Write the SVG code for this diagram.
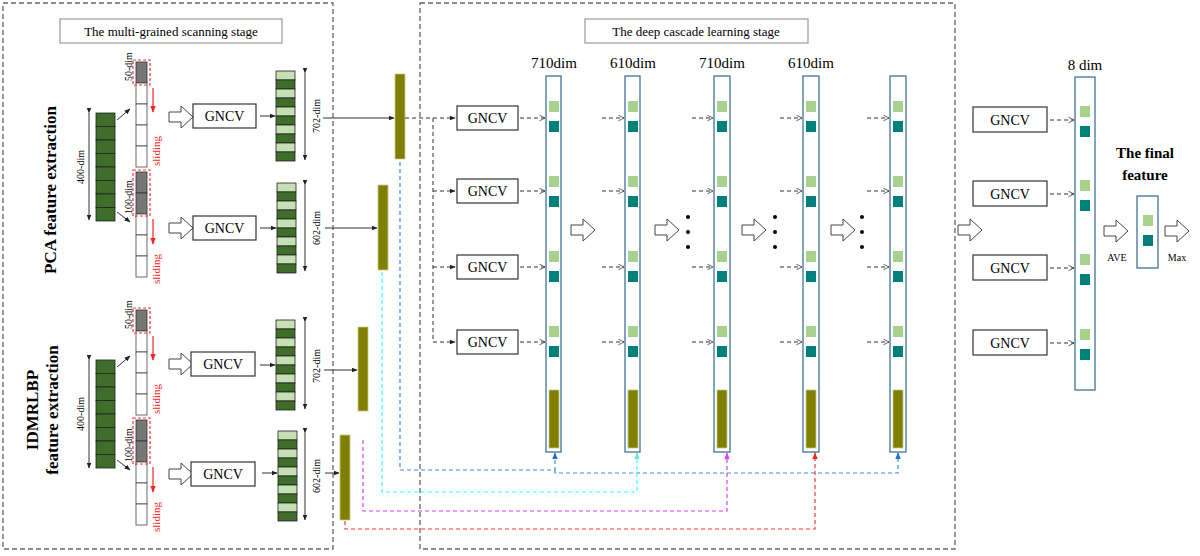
<svg xmlns="http://www.w3.org/2000/svg" xmlns:xlink="http://www.w3.org/1999/xlink" width="1200" height="556" viewBox="0 0 1200 556">
<style>
text{font-family:"Liberation Serif",serif;fill:#000}
.t{font-size:14px}
.s{font-size:10px}
.b{font-weight:bold}
.box{fill:#fff;stroke:#333;stroke-width:1.2}
.stage{fill:none;stroke:#666;stroke-width:1.3;stroke-dasharray:5,3}
.dg{fill:#3e6e2a;stroke:#222;stroke-width:0.8}
.lg{fill:#c5e0b3;stroke:#222;stroke-width:0.8}
.wc{fill:#fff;stroke:#444;stroke-width:0.8}
.gc{fill:#777;stroke:#333;stroke-width:0.8}
.red{fill:none;stroke:#f33;stroke-width:1.2;stroke-dasharray:3,2}
.bar{fill:#808000;stroke:#c9c98a;stroke-width:0.8}
.col{fill:#fff;stroke:#41719c;stroke-width:1.3}
.sq1{fill:#a9d18e}
.sq2{fill:#00807a}
.ln{stroke:#333;stroke-width:1;fill:none}
.dl{stroke:#333;stroke-width:1;fill:none;stroke-dasharray:4,3}
.ha{fill:#fff;stroke:#444;stroke-width:1}
</style>
<defs>
<marker id="ah" viewBox="0 0 10 10" refX="9" refY="5" markerWidth="6" markerHeight="6" orient="auto"><path d="M0,1 L10,5 L0,9 z" fill="#222"/></marker>
<marker id="oa" viewBox="0 0 10 10" refX="9" refY="5" markerWidth="7" markerHeight="7" orient="auto"><path d="M1,1 L9,5 L1,9" fill="none" stroke="#444" stroke-width="1.2"/></marker>
<marker id="ab" viewBox="0 0 10 10" refX="9" refY="5" markerWidth="6" markerHeight="6" orient="auto"><path d="M0,1 L10,5 L0,9 z" fill="#1f6fd0"/></marker>
<marker id="ac" viewBox="0 0 10 10" refX="9" refY="5" markerWidth="6" markerHeight="6" orient="auto"><path d="M0,1 L10,5 L0,9 z" fill="#6fe8c8"/></marker>
<marker id="am" viewBox="0 0 10 10" refX="9" refY="5" markerWidth="6" markerHeight="6" orient="auto"><path d="M0,1 L10,5 L0,9 z" fill="#e040fb"/></marker>
<marker id="ar" viewBox="0 0 10 10" refX="9" refY="5" markerWidth="6" markerHeight="6" orient="auto"><path d="M0,1 L10,5 L0,9 z" fill="#f22"/></marker>
<marker id="rd" viewBox="0 0 10 10" refX="9" refY="5" markerWidth="6" markerHeight="6" orient="auto"><path d="M0,1 L10,5 L0,9 z" fill="#f22"/></marker>
<path id="harrow" class="ha" d="M0,-5 H12 V-11 L24,0 L12,11 V5 H0 Z"/>
<g id="fcol">
<rect class="lg" x="0" y="0" width="19" height="9"/><rect class="dg" x="0" y="9" width="19" height="9"/>
<rect class="lg" x="0" y="18" width="19" height="9"/><rect class="dg" x="0" y="27" width="19" height="9"/>
<rect class="lg" x="0" y="36" width="19" height="9"/><rect class="dg" x="0" y="45" width="19" height="9"/>
<rect class="lg" x="0" y="54" width="19" height="9"/><rect class="dg" x="0" y="63" width="19" height="9"/>
<rect class="lg" x="0" y="72" width="19" height="9"/><rect class="dg" x="0" y="81" width="19" height="9"/>
</g>
<g id="incol">
<rect class="dg" x="0" y="0" width="19" height="13.5"/><rect class="dg" x="0" y="13.5" width="19" height="13.5"/>
<rect class="dg" x="0" y="27" width="19" height="13.5"/><rect class="dg" x="0" y="40.5" width="19" height="13.5"/>
<rect class="dg" x="0" y="54" width="19" height="13.5"/><rect class="dg" x="0" y="67.5" width="19" height="13.5"/>
<rect class="dg" x="0" y="81" width="19" height="13.5"/><rect class="dg" x="0" y="94.5" width="19" height="13.5"/>
</g>
<g id="sl1">
<rect class="gc" x="0" y="0" width="11" height="21"/>
<rect class="wc" x="0" y="21" width="11" height="21"/><rect class="wc" x="0" y="42" width="11" height="21"/>
<rect class="wc" x="0" y="63" width="11" height="21"/><rect class="wc" x="0" y="84" width="11" height="21"/>
<rect class="red" x="-3" y="-2" width="17" height="25"/>
<line x1="17" y1="26" x2="17" y2="50" stroke="#f22" stroke-width="1.2" marker-end="url(#rd)"/>
<text class="s" transform="translate(-4,19) rotate(-90)" style="font-size:10px">50-dim</text>
<text class="s" transform="translate(24,104) rotate(-90)" fill="#f22" style="fill:#f22;font-size:11px">sliding</text>
</g>
<g id="sl2">
<rect class="gc" x="0" y="0" width="11" height="21"/><rect class="gc" x="0" y="21" width="11" height="21"/>
<rect class="wc" x="0" y="42" width="11" height="21"/><rect class="wc" x="0" y="63" width="11" height="21"/>
<rect class="wc" x="0" y="84" width="11" height="21"/>
<rect class="red" x="-3" y="-2" width="17" height="46"/>
<line x1="17" y1="47" x2="17" y2="72" stroke="#f22" stroke-width="1.2" marker-end="url(#rd)"/>
<text class="s" transform="translate(-4,42) rotate(-90)" style="font-size:10px">100-dim</text>
<text class="s" transform="translate(24,112) rotate(-90)" style="fill:#f22;font-size:11px">sliding</text>
</g>
<g id="sqs"><rect class="sq1" x="0" y="-17" width="10" height="11"/><rect class="sq2" x="0" y="3" width="10" height="11"/></g>
</defs>
<rect width="1200" height="556" fill="#fff"/>

<g id="stage1">
<rect class="stage" x="3" y="3" width="330" height="546"/>
<rect class="box" x="60" y="19" width="222" height="24" style="stroke:#999"/>
<text class="t" x="171" y="36" text-anchor="middle" style="font-size:13px">The multi-grained scanning stage</text>
<text class="b" transform="translate(56,190) rotate(-90)" text-anchor="middle" style="font-size:17px">PCA feature extraction</text>
<text class="b" transform="translate(38,410) rotate(-90)" text-anchor="middle" style="font-size:17px">IDMRLBP</text>
<text class="b" transform="translate(58,410) rotate(-90)" text-anchor="middle" style="font-size:17px">feature extraction</text>
</g>

<g id="pca">
<use xlink:href="#incol" x="96" y="113"/>
<line class="ln" x1="89" y1="113" x2="89" y2="220" marker-start="url(#ah)" marker-end="url(#ah)"/>
<text class="s" transform="translate(84,167) rotate(-90)" text-anchor="middle">400-dim</text>
<line class="ln" x1="117" y1="120" x2="130" y2="109" marker-end="url(#ah)"/>
<line class="ln" x1="117" y1="212" x2="130" y2="222" marker-end="url(#ah)"/>
<use xlink:href="#sl1" x="136" y="62"/>
<use xlink:href="#sl2" x="136" y="172"/>
<use xlink:href="#harrow" x="169" y="117"/>
<use xlink:href="#harrow" x="169" y="228"/>
<rect class="box" x="193" y="104" width="63" height="24"/><text class="t" x="224.5" y="121" text-anchor="middle">GNCV</text>
<rect class="box" x="193" y="216" width="63" height="24"/><text class="t" x="224.5" y="233" text-anchor="middle">GNCV</text>
<line class="ln" x1="260" y1="116" x2="275" y2="116" marker-end="url(#ah)"/>
<line class="ln" x1="260" y1="228" x2="276" y2="228" marker-end="url(#ah)"/>
<use xlink:href="#fcol" x="276" y="71"/>
<use xlink:href="#fcol" x="277" y="183"/>
<line class="ln" x1="305" y1="73" x2="305" y2="160" marker-start="url(#ah)" marker-end="url(#ah)"/>
<line class="ln" x1="305" y1="185" x2="305" y2="271" marker-start="url(#ah)" marker-end="url(#ah)"/>
<text class="s" transform="translate(320,116) rotate(-90)" text-anchor="middle">702-dim</text>
<text class="s" transform="translate(320,228) rotate(-90)" text-anchor="middle">602-dim</text>
<line class="ln" x1="323" y1="118" x2="394" y2="118" marker-end="url(#ah)"/>
<line class="ln" x1="325" y1="228" x2="377" y2="228" marker-end="url(#ah)"/>
<rect class="bar" x="395" y="74" width="10" height="85"/>
<rect class="bar" x="378" y="185" width="10" height="85"/>
</g>

<g id="idmrlbp">
<use xlink:href="#incol" x="96" y="360"/>
<line class="ln" x1="89" y1="360" x2="89" y2="468" marker-start="url(#ah)" marker-end="url(#ah)"/>
<text class="s" transform="translate(84,414) rotate(-90)" text-anchor="middle">400-dim</text>
<line class="ln" x1="117" y1="367" x2="130" y2="356" marker-end="url(#ah)"/>
<line class="ln" x1="117" y1="460" x2="130" y2="470" marker-end="url(#ah)"/>
<use xlink:href="#sl1" x="136" y="310"/>
<use xlink:href="#sl2" x="136" y="420"/>
<use xlink:href="#harrow" x="169" y="364"/>
<use xlink:href="#harrow" x="169" y="474"/>
<rect class="box" x="191" y="352" width="64" height="24"/><text class="t" x="223" y="369" text-anchor="middle">GNCV</text>
<rect class="box" x="191" y="462" width="64" height="24"/><text class="t" x="223" y="479" text-anchor="middle">GNCV</text>
<line class="ln" x1="260" y1="365" x2="275" y2="365" marker-end="url(#ah)"/>
<line class="ln" x1="262" y1="473" x2="277" y2="473" marker-end="url(#ah)"/>
<use xlink:href="#fcol" x="276" y="320"/>
<use xlink:href="#fcol" x="278" y="431"/>
<line class="ln" x1="305" y1="322" x2="305" y2="409" marker-start="url(#ah)" marker-end="url(#ah)"/>
<line class="ln" x1="305" y1="433" x2="305" y2="520" marker-start="url(#ah)" marker-end="url(#ah)"/>
<text class="s" transform="translate(320,366) rotate(-90)" text-anchor="middle">702-dim</text>
<text class="s" transform="translate(320,476) rotate(-90)" text-anchor="middle">602-dim</text>
<line class="ln" x1="324" y1="370" x2="357" y2="370" marker-end="url(#ah)"/>
<line class="ln" x1="325" y1="473" x2="339" y2="473" marker-end="url(#ah)"/>
<rect class="bar" x="358" y="327" width="10" height="84"/>
<rect class="bar" x="340" y="435" width="10" height="85"/>
</g>

<g id="stage2">
<rect class="stage" x="420" y="3" width="535" height="546"/>
<rect class="box" x="585" y="19" width="223" height="24" style="stroke:#999"/>
<text class="t" x="696" y="36" text-anchor="middle" style="font-size:13px">The deep cascade learning stage</text>
</g>

<g id="cascade">
<rect class="box" x="457" y="106" width="61" height="24"/><text class="t" x="487.5" y="123" text-anchor="middle">GNCV</text>
<rect class="box" x="457" y="179" width="61" height="24"/><text class="t" x="487.5" y="196" text-anchor="middle">GNCV</text>
<rect class="box" x="457" y="255" width="61" height="24"/><text class="t" x="487.5" y="272" text-anchor="middle">GNCV</text>
<rect class="box" x="457" y="330" width="61" height="24"/><text class="t" x="487.5" y="347" text-anchor="middle">GNCV</text>
<text class="t" x="554" y="68" text-anchor="middle" style="font-size:15px">710dim</text>
<text class="t" x="633" y="68" text-anchor="middle" style="font-size:15px">610dim</text>
<text class="t" x="722" y="68" text-anchor="middle" style="font-size:15px">710dim</text>
<text class="t" x="811" y="68" text-anchor="middle" style="font-size:15px">610dim</text>
<rect class="col" x="546" y="76" width="15" height="376"/>
<rect class="col" x="625" y="76" width="15" height="376"/>
<rect class="col" x="714" y="76" width="16" height="376"/>
<rect class="col" x="803" y="76" width="16" height="376"/>
<rect class="col" x="890" y="76" width="16" height="376"/>
<g>
<use xlink:href="#sqs" x="549" y="118"/><use xlink:href="#sqs" x="549" y="193"/><use xlink:href="#sqs" x="549" y="268"/><use xlink:href="#sqs" x="549" y="343"/>
<use xlink:href="#sqs" x="628" y="118"/><use xlink:href="#sqs" x="628" y="193"/><use xlink:href="#sqs" x="628" y="268"/><use xlink:href="#sqs" x="628" y="343"/>
<use xlink:href="#sqs" x="717" y="118"/><use xlink:href="#sqs" x="717" y="193"/><use xlink:href="#sqs" x="717" y="268"/><use xlink:href="#sqs" x="717" y="343"/>
<use xlink:href="#sqs" x="806" y="118"/><use xlink:href="#sqs" x="806" y="193"/><use xlink:href="#sqs" x="806" y="268"/><use xlink:href="#sqs" x="806" y="343"/>
<use xlink:href="#sqs" x="893" y="118"/><use xlink:href="#sqs" x="893" y="193"/><use xlink:href="#sqs" x="893" y="268"/><use xlink:href="#sqs" x="893" y="343"/>
</g>
<rect class="bar" x="549" y="390" width="10" height="58"/>
<rect class="bar" x="628" y="390" width="10" height="58"/>
<rect class="bar" x="717" y="390" width="10" height="58"/>
<rect class="bar" x="806" y="390" width="10" height="58"/>
<rect class="bar" x="893" y="390" width="10" height="58"/>
<use xlink:href="#harrow" x="571" y="230"/>
<use xlink:href="#harrow" x="655" y="230"/>
<use xlink:href="#harrow" x="742" y="230"/>
<use xlink:href="#harrow" x="831" y="230"/>
<g fill="#000">
<circle cx="688" cy="217" r="2"/><circle cx="688" cy="232" r="2"/><circle cx="688" cy="247" r="2"/>
<circle cx="775" cy="217" r="2"/><circle cx="775" cy="232" r="2"/><circle cx="775" cy="247" r="2"/>
<circle cx="862" cy="217" r="2"/><circle cx="862" cy="232" r="2"/><circle cx="862" cy="247" r="2"/>
</g>
<use xlink:href="#harrow" x="958" y="230"/>
</g>

<g id="output">
<text class="t" x="1085" y="70" text-anchor="middle" style="font-size:15px">8  dim</text>
<rect class="box" x="973" y="107" width="74" height="25"/><text class="t" x="1010" y="125" text-anchor="middle">GNCV</text>
<rect class="box" x="973" y="181" width="74" height="25"/><text class="t" x="1010" y="199" text-anchor="middle">GNCV</text>
<rect class="box" x="973" y="255" width="74" height="25"/><text class="t" x="1010" y="273" text-anchor="middle">GNCV</text>
<rect class="box" x="973" y="330" width="74" height="25"/><text class="t" x="1010" y="348" text-anchor="middle">GNCV</text>
<rect class="col" x="1075" y="77" width="20" height="313"/>
<use xlink:href="#sqs" x="1080" y="123"/><use xlink:href="#sqs" x="1080" y="197"/><use xlink:href="#sqs" x="1080" y="271"/><use xlink:href="#sqs" x="1080" y="346"/>
<text class="b" x="1145" y="158" text-anchor="middle" style="font-size:15px">The final</text>
<text class="b" x="1145" y="180" text-anchor="middle" style="font-size:15px">feature</text>
<use xlink:href="#harrow" x="1104" y="231"/>
<text class="s" x="1117" y="261" text-anchor="middle">AVE</text>
<rect class="col" x="1137" y="196" width="21" height="72"/>
<use xlink:href="#sqs" x="1143" y="232"/>
<use xlink:href="#harrow" x="1165" y="231"/>
<text class="s" x="1177" y="261" text-anchor="middle">Max</text>
</g>

<g id="connectors">
<path class="dl" d="M405,118 H455" marker-end="url(#ah)"/>
<path class="dl" d="M433,118 V342"/>
<path class="dl" d="M433,191 H455" marker-end="url(#ah)"/>
<path class="dl" d="M433,267 H455" marker-end="url(#ah)"/>
<path class="dl" d="M433,342 H455" marker-end="url(#ah)"/>
<g>
<path class="dl" d="M520,118 H545" marker-end="url(#oa)"/><path class="dl" d="M520,191 H545" marker-end="url(#oa)"/><path class="dl" d="M520,267 H545" marker-end="url(#oa)"/><path class="dl" d="M520,342 H545" marker-end="url(#oa)"/>
<path class="dl" d="M602,118 H624" marker-end="url(#oa)"/><path class="dl" d="M602,191 H624" marker-end="url(#oa)"/><path class="dl" d="M602,267 H624" marker-end="url(#oa)"/><path class="dl" d="M602,342 H624" marker-end="url(#oa)"/>
<path class="dl" d="M692,118 H713" marker-end="url(#oa)"/><path class="dl" d="M692,191 H713" marker-end="url(#oa)"/><path class="dl" d="M692,267 H713" marker-end="url(#oa)"/><path class="dl" d="M692,342 H713" marker-end="url(#oa)"/>
<path class="dl" d="M780,118 H802" marker-end="url(#oa)"/><path class="dl" d="M780,191 H802" marker-end="url(#oa)"/><path class="dl" d="M780,267 H802" marker-end="url(#oa)"/><path class="dl" d="M780,342 H802" marker-end="url(#oa)"/>
<path class="dl" d="M867,118 H889" marker-end="url(#oa)"/><path class="dl" d="M867,191 H889" marker-end="url(#oa)"/><path class="dl" d="M867,267 H889" marker-end="url(#oa)"/><path class="dl" d="M867,342 H889" marker-end="url(#oa)"/>
<path class="dl" d="M1050,120 H1074" marker-end="url(#oa)"/><path class="dl" d="M1050,194 H1074" marker-end="url(#oa)"/><path class="dl" d="M1050,268 H1074" marker-end="url(#oa)"/><path class="dl" d="M1050,343 H1074" marker-end="url(#oa)"/>
</g>
<path d="M400,162 V470 H555 V453" fill="none" stroke="#3b8ee0" stroke-width="1.2" stroke-dasharray="4,3" marker-end="url(#ab)"/>
<path d="M555,470 V473 H898 V453" fill="none" stroke="#3b8ee0" stroke-width="1.2" stroke-dasharray="4,3" marker-end="url(#ab)"/>
<path d="M382,272 V492 H637 V453" fill="none" stroke="#3ff" stroke-width="1.2" stroke-dasharray="4,3" marker-end="url(#ac)"/>
<path d="M363,440 V511 H727 V453" fill="none" stroke="#d43cf0" stroke-width="1.2" stroke-dasharray="4,3" marker-end="url(#am)"/>
<path d="M345,521 V529 H815 V453" fill="none" stroke="#f33" stroke-width="1.2" stroke-dasharray="4,3" marker-end="url(#ar)"/>
</g>
</svg>
